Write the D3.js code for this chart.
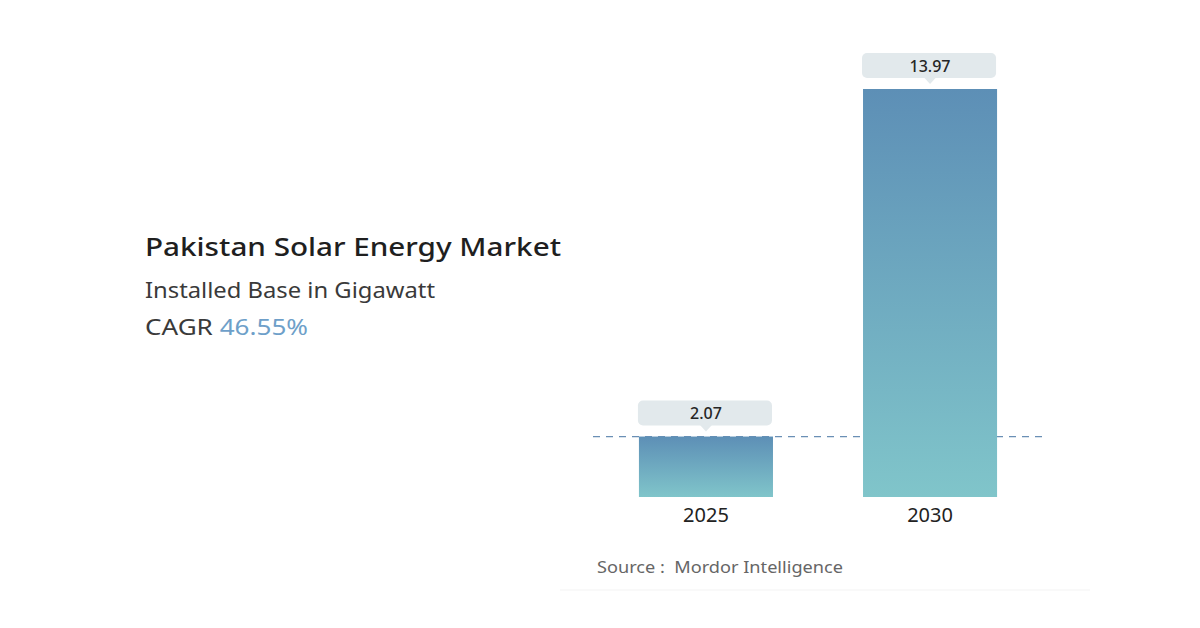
<!DOCTYPE html>
<html><head><meta charset="utf-8">
<script src="https://cdn.jsdelivr.net/npm/d3@7"></script>
<style>body{margin:0;background:#fff;}svg{display:block;}</style>
</head><body>
<svg id="c" width="1200" height="628"></svg>
<script>
const categories = ["2025", "2030"];
const values = [2.07, 13.97];
const valueLabels = ["2.07", "13.97"];
const title = "Pakistan Solar Energy Market";
const subtitle = "Installed Base in Gigawatt";
const cagrLabel = "CAGR";
const cagrValue = "46.55%";
const source = "Source :  Mordor Intelligence";

const svg = d3.select("#c");
const font = "'Noto Sans', Lato, sans-serif";

const x = d3.scaleBand().domain(categories).range([593, 1043]).paddingInner(0.4018).paddingOuter(0.205);
const y = d3.scaleLinear().domain([0, 13.97]).range([497, 89]);

const defs = svg.append("defs");
const g = defs.append("linearGradient").attr("id", "barGrad").attr("x1", 0).attr("y1", 0).attr("x2", 0).attr("y2", 1);
g.append("stop").attr("offset", "0%").attr("stop-color", "#5d8fb6");
g.append("stop").attr("offset", "100%").attr("stop-color", "#80c5ca");

// dashed reference line at first value (behind bars)
svg.append("line")
  .attr("x1", 593).attr("x2", 1047)
  .attr("y1", y(values[0])).attr("y2", y(values[0]))
  .attr("stroke", "#6a8fb5").attr("stroke-width", 1.3)
  .attr("stroke-dasharray", "7,6");

// bars
svg.selectAll("rect.bar").data(categories).enter().append("rect")
  .attr("class", "bar")
  .attr("x", d => x(d))
  .attr("width", x.bandwidth())
  .attr("y", (d, i) => y(values[i]))
  .attr("height", (d, i) => y(0) - y(values[i]))
  .attr("fill", "url(#barGrad)");

// value labels with callout boxes
categories.forEach((c, i) => {
  const cx = x(c) + x.bandwidth() / 2;
  const top = y(values[i]);
  const bw = x.bandwidth();
  const grp = svg.append("g");
  grp.append("rect")
    .attr("x", cx - bw / 2 - 1).attr("y", top - 36)
    .attr("width", bw).attr("height", 25).attr("rx", 5)
    .attr("fill", "#e2e9ec");
  grp.append("path")
    .attr("d", `M${cx - 6},${top - 11.5} L${cx},${top - 5} L${cx + 6},${top - 11.5} Z`)
    .attr("fill", "#e2e9ec");
  grp.append("text")
    .attr("x", cx).attr("y", top - 17.5)
    .attr("text-anchor", "middle")
    .attr("font-family", font).attr("font-size", 16).attr("font-weight", 500)
    .attr("fill", "#262626").text(valueLabels[i]);
});

// x axis labels
const xAxis = d3.axisBottom(x).tickSize(0).tickPadding(11);
const ax = svg.append("g").attr("transform", `translate(0,${y(0)})`).call(xAxis);
ax.select(".domain").remove();
ax.selectAll("text").attr("font-family", font).attr("font-size", 20).attr("fill", "#222");

// titles
svg.append("text").attr("x", 145).attr("y", 256)
  .attr("font-family", font).attr("font-size", 26).attr("font-weight", 500)
  .attr("textLength", 416).attr("lengthAdjust", "spacingAndGlyphs")
  .attr("fill", "#1f1f1f").text(title);
svg.append("text").attr("x", 145).attr("y", 298)
  .attr("font-family", font).attr("font-size", 21)
  .attr("textLength", 290).attr("lengthAdjust", "spacingAndGlyphs")
  .attr("fill", "#3a3a3a").text(subtitle);
const cg = svg.append("text").attr("x", 145).attr("y", 335)
  .attr("font-family", font).attr("font-size", 22).attr("fill", "#3a3a3a")
  .attr("textLength", 163).attr("lengthAdjust", "spacingAndGlyphs");
cg.append("tspan").text(cagrLabel + " ");
cg.append("tspan").attr("fill", "#6e9fc9").text(cagrValue);

// source
svg.append("text").attr("x", 597).attr("y", 573)
  .attr("font-family", font).attr("font-size", 17).attr("fill", "#666")
  .attr("textLength", 246).attr("lengthAdjust", "spacingAndGlyphs")
  .attr("xml:space", "preserve").style("white-space", "pre").text(source);
svg.append("line").attr("x1", 560).attr("x2", 1090).attr("y1", 590).attr("y2", 590)
  .attr("stroke", "#f3f3f3").attr("stroke-width", 1);
</script>
</body></html>
